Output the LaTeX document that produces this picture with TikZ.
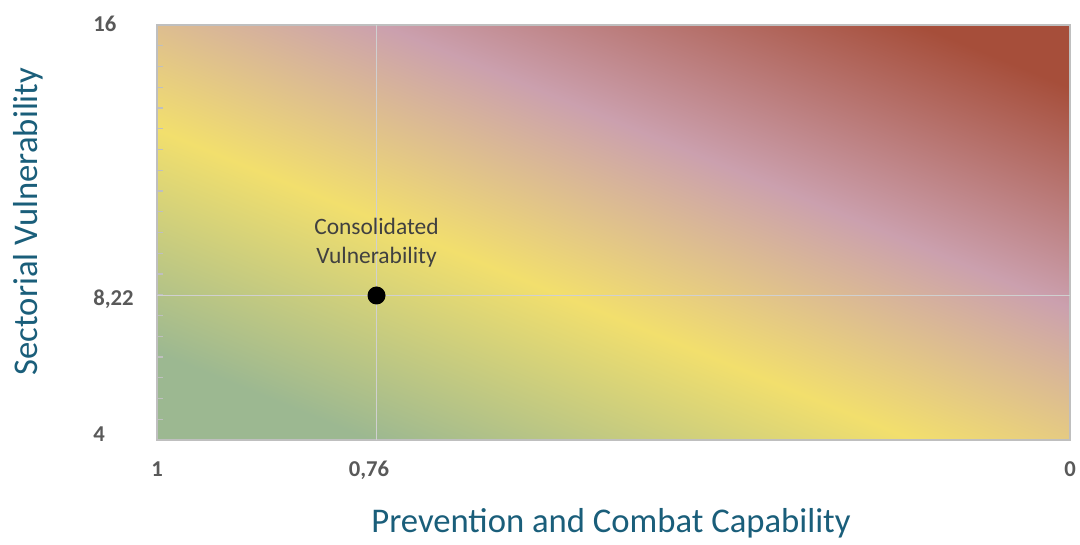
\documentclass[tikz,border=0pt]{standalone}
\usepackage{fontspec}
\setmainfont{Carlito}
\usetikzlibrary{positioning}
\definecolor{riskgreen}{RGB}{156, 184, 145}
\definecolor{riskyellow}{RGB}{242, 223, 109}
\definecolor{riskpink}{RGB}{203, 160, 174}
\definecolor{riskred}{RGB}{166, 78, 58}
\definecolor{axisgray}{RGB}{191, 191, 191}
\definecolor{gridgray}{RGB}{208, 208, 208}
\definecolor{ticktext}{RGB}{89, 89, 89}
\definecolor{labeltext}{RGB}{64, 64, 64}
\definecolor{titleteal}{RGB}{26, 94, 122}
\pgfdeclarehorizontalshading{riskmap}{100bp}{color(0bp)=(riskgreen); color(24.5bp)=(riskgreen);
  color(43bp)=(riskyellow); color(59.3bp)=(riskpink); color(77.6bp)=(riskred); color(100bp)=(riskred)}

\begin{document}
\begin{tikzpicture}[x=0.75pt, y=0.75pt,
    ticklabel/.style={font=\fontsize{17}{20}\selectfont\bfseries, text=ticktext, inner sep=0pt, anchor=base},
    axistitle/.style={font=\fontsize{26}{31}\selectfont, text=titleteal, inner sep=0pt, anchor=base},
    gridline/.style={gridgray, line width=1.4pt}]
  \useasboundingbox (0,0) rectangle (1080,545);
  % plot area
  \coordinate (ll) at (157,105);
  \coordinate (ur) at (1070,520);
  \coordinate (cv) at (376.5,249.5);
  \shade[shading=riskmap, shading angle=67.7] (ll) rectangle (ur);
  \draw[axisgray, line width=1.5pt] (ll) rectangle (ur);
  \foreach \k in {1,...,19}
    \draw[axisgray, line width=1pt] (157,105+\k*20.75) -- ++(6,0);
  \draw[gridline] (cv |- ll) -- (cv |- ur);
  \draw[gridline] (cv -| ll) -- (cv -| ur);
  \node[circle, fill=black, minimum size=13.5pt, inner sep=0pt] (dot) at (cv) {};
  \node[align=center, text=labeltext, font=\fontsize{17.6}{21.75}\selectfont, inner sep=0pt,
        above=14pt of dot] (consolidated) {Consolidated\\Vulnerability};
  % tick labels
  \node[ticklabel, anchor=base west] (y16) at (93,513.3) {16};
  \node[ticklabel, anchor=base west] (y822) at (93,239) {8,22};
  \node[ticklabel, anchor=base west] (y4) at (93,103.3) {4};
  \node[ticklabel] (x1) at (157,68) {1};
  \node[ticklabel] (x076) at (369,68) {0,76};
  \node[ticklabel] (x0) at (1070,68) {0};
  % axis titles
  \node[axistitle] (xtitle) at (611,12) {Prevention and Combat Capability};
  \node[axistitle, rotate=90] (ytitle) at (37.3,323.5) {Sectorial Vulnerability};
\end{tikzpicture}
\end{document}
